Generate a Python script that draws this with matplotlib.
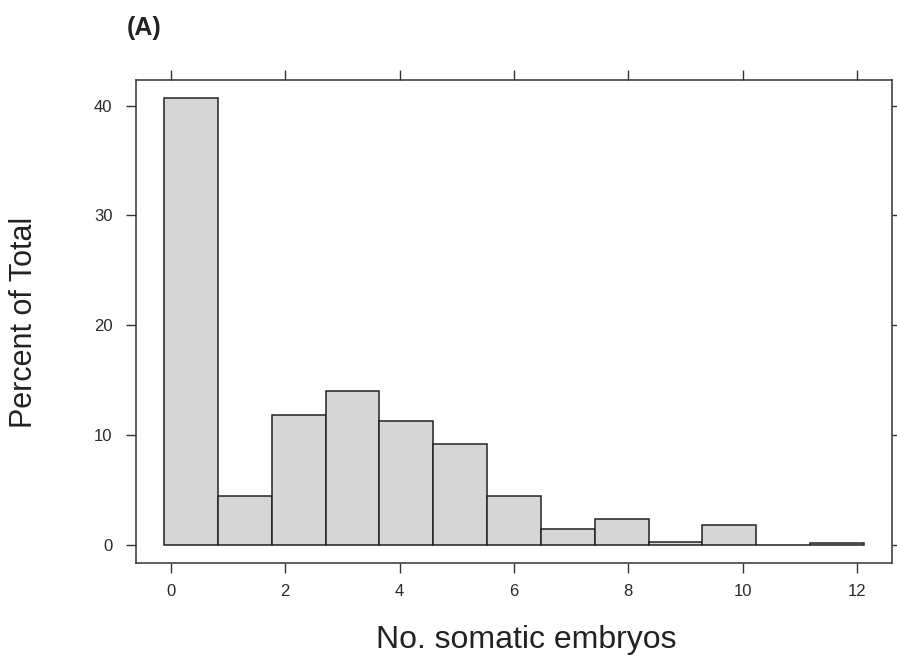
import matplotlib
matplotlib.use("Agg")
import matplotlib.pyplot as plt
import numpy as np

plt.rcParams['font.family'] = ['Liberation Sans', 'DejaVu Sans']

# Data: histogram bins (13 equal bins from -0.12 to 12.12) and percent of total
bin_left = -0.12
bin_right = 12.12
percent = [40.7, 4.45, 11.8, 14.05, 11.25, 9.2, 4.45, 1.5, 2.4, 0.3, 1.8, 0.0, 0.2]
x_ticks = [0, 2, 4, 6, 8, 10, 12]
y_ticks = [0, 10, 20, 30, 40]

n = len(percent)
edges = np.linspace(bin_left, bin_right, n + 1)
widths = np.diff(edges)

fig = plt.figure(figsize=(8.97, 6.65), dpi=100)
ax = fig.add_axes([136/897, 1 - 563/665, (892 - 136)/897, (563 - 80)/665])

ax.bar(edges[:-1], percent, width=widths, align='edge',
       color='#d6d6d6', edgecolor='#222222', linewidth=1.1)

ax.set_xlim(-0.61, 12.61)
ax.set_ylim(-1.63, 42.33)

ax.set_xticks(x_ticks)
ax.set_yticks(y_ticks)
ax.tick_params(axis='both', which='both', direction='out', length=7,
               width=1.0, color='#333333', labelsize=12, labelcolor='#2a2a2a',
               top=True, right=True, labeltop=False, labelright=False)
ax.tick_params(axis='x', pad=8)
ax.tick_params(axis='y', pad=10)

for s in ax.spines.values():
    s.set_color('#333333')
    s.set_linewidth(1.1)

fig.text(24/897, 1 - 322/665, 'Percent of Total', rotation=90,
         ha='center', va='center', fontsize=22, color='#222222')
fig.text(526.5/897, 1 - 640/665, 'No. somatic embryos',
         ha='center', va='center', fontsize=23, color='#222222')
fig.text(127/897, 1 - 28/665, '(A)', ha='left', va='center',
         fontsize=18, fontweight='bold', color='#222222',
         family=['Liberation Sans Narrow', 'Liberation Sans', 'DejaVu Sans'])

fig.savefig('out.png', dpi=100)
